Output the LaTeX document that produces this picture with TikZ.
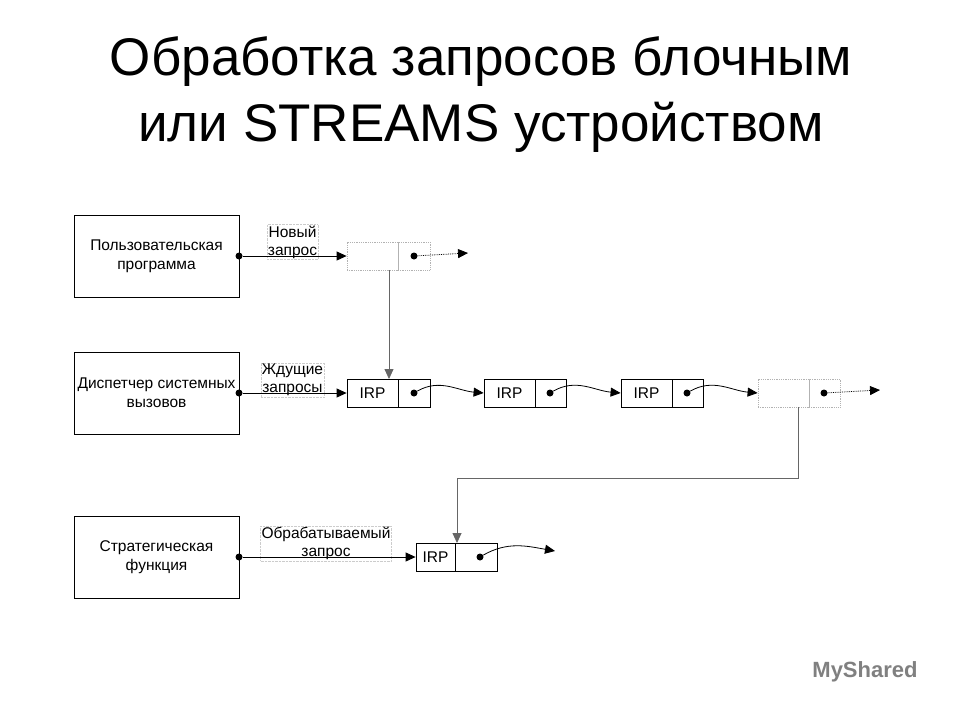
\documentclass[tikz,border=0pt]{standalone}
\usepackage{fontspec}
\setmainfont{Liberation Sans}
\usetikzlibrary{arrows.meta}
\begin{document}
\begin{tikzpicture}[x=1pt,y=-1pt,
  prog/.style={draw,thick,minimum width=165pt,minimum height=82pt,align=center,font=\fontsize{15.5}{19}\selectfont,inner sep=0},
  lbl/.style={draw=gray!40,densely dotted,align=center,font=\fontsize{15.5}{18}\selectfont,inner sep=1pt},
  cell/.style={draw,thick,minimum height=28pt,inner sep=0,font=\fontsize{15.5}{17}\selectfont},
  dcell/.style={cell,draw=gray!60,densely dotted},
  dot/.style={circle,fill,inner sep=0,minimum size=7pt},
  arr/.style={-{Triangle[length=10pt,width=9pt]},thick},
  garr/.style={-{Triangle[length=10pt,width=9pt]},thick,draw=gray!80!black}]
\useasboundingbox (0,0) rectangle (960,720);
\node[font=\fontsize{53}{58}\selectfont] (t1) at (481,62) {Обработка запросов блочным};
\node[font=\fontsize{53}{58}\selectfont] (t2) at (481,127) {или STREAMS устройством};
% left boxes
\node[prog] (p1) at (156.5,256) {Пользовательская\\программа};
\node[prog] (p2) at (156.5,393) {Диспетчер системных\\вызовов};
\node[prog] (p3) at (156.5,557) {Стратегическая\\функция};
\node[dot] (d1) at (239,256) {}; \node[dot] (d2) at (239,393) {}; \node[dot] (d3) at (239,557) {};
\node[lbl] (l1) at (292.5,242) {Новый\\запрос};
\node[lbl] (l2) at (292.5,380) {Ждущие\\запросы};
\node[lbl] (l3) at (326,543.5) {Обрабатываемый\\запрос};
% row 1
\node[dcell,minimum width=51pt] (a1) at (372.5,256) {};
\node[dcell,minimum width=32pt] (a2) at (414,256) {};
\node[dot] (ad) at (414,256) {};
\coordinate (ae) at (468,253);
% row 2
\node[cell,minimum width=51pt] (b1) at (372.5,393) {IRP};
\node[cell,minimum width=32pt] (b2) at (414,393) {};
\node[dot] (bd) at (414,393) {};
\node[cell,minimum width=51pt] (c1) at (509.5,393) {IRP};
\node[cell,minimum width=31pt] (c2) at (550.5,393) {};
\node[dot] (cd) at (550,393) {};
\node[cell,minimum width=51pt] (e1) at (646.5,393) {IRP};
\node[cell,minimum width=31pt] (e2) at (687.5,393) {};
\node[dot] (ed) at (687,393) {};
\node[dcell,minimum width=51pt] (f1) at (783.5,393) {};
\node[dcell,minimum width=31pt] (f2) at (824.5,393) {};
\node[dot] (fd) at (824,393) {};
\coordinate (fe) at (880,390);
% row 3
\node[cell,minimum width=39pt] (g1) at (435.5,557) {IRP};
\node[cell,minimum width=42pt] (g2) at (476,557) {};
\node[dot] (gd) at (480,557) {};
\coordinate (ge) at (555,551);
% connectors
\draw[arr] (d1) -- (a1.west);
\draw[arr] (d2) -- (b1.west);
\draw[arr] (d3) -- (g1.west);
\draw[garr] (a1.south -| 389,0) -- (389,379);
\draw[garr] (f1.south -| 798,0) -- (798,478) -- (457,478) -- (457,543);
\draw[densely dotted,thick,-{Triangle[length=10pt,width=9pt]}] (ad) -- (ae);
\draw[densely dotted,thick,-{Triangle[length=10pt,width=9pt]}] (fd) -- (fe);
\draw[arr] (bd) to[out=30,in=175] (c1.west);
\draw[arr] (cd) to[out=30,in=175] (e1.west);
\draw[arr] (ed) to[out=30,in=175] (f1.west);
\draw[arr] (gd) to[out=30,in=170] (ge);
\node[text=gray,font=\bfseries\fontsize{22}{24}\selectfont] (wm) at (865,672) {MyShared};
\end{tikzpicture}
\end{document}
